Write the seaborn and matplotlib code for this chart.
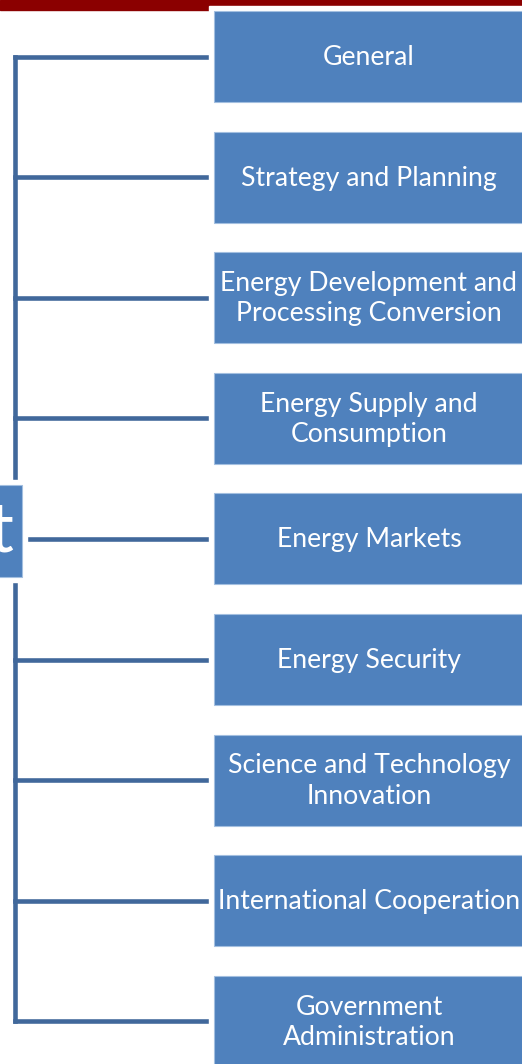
import numpy as np
import seaborn as sns
import matplotlib.pyplot as plt
from matplotlib.patches import Rectangle


# -------------------------------------------------------------
# Data: the branches of the tree (top to bottom)
# -------------------------------------------------------------
categories = [
    "General",
    "Strategy and Planning",
    "Energy Development and\nProcessing Conversion",
    "Energy Supply and\nConsumption",
    "Energy Markets",
    "Energy Security",
    "Science and Technology\nInnovation",
    "International Cooperation",
    "Government\nAdministration",
]
root_label = "t"   # the root box is cropped, only its last letter shows


# -------------------------------------------------------------
# Layout / style (pixel units, y downwards)
# -------------------------------------------------------------
W, H = 522, 1064
BOX_LEFT, BOX_RIGHT = 214, 526
FIRST_TOP, STEP, BOX_H = 11, 120.6, 91
TRUNK_X = 15
HALO = 5
FILL = "#4F81BD"
EDGE = "#A3BFE0"
LINE = "#41689B"
LW = 3.3

sns.set_theme(style="white")
plt.rcParams["font.family"] = ["Lato", "DejaVu Sans"]

fig = plt.figure(figsize=(W / 100, H / 100), dpi=100)
ax = fig.add_axes([0, 0, 1, 1])
ax.set_xlim(0, W)
ax.set_ylim(H, 0)
ax.axis("off")

centers = FIRST_TOP + BOX_H / 2 + np.arange(len(categories)) * STEP

# dark red band at the top
ax.add_patch(Rectangle((0, 0), W, 10, color="#8B0000", zorder=1))

# connectors
ax.plot([TRUNK_X, TRUNK_X], [centers[0], centers[-1]], color=LINE, lw=LW,
        solid_capstyle="projecting", zorder=2)
for c in centers:
    ax.plot([TRUNK_X, BOX_LEFT], [c, c], color=LINE, lw=LW,
            solid_capstyle="projecting", zorder=2)

# boxes (white halo then blue box)
bw = BOX_RIGHT - BOX_LEFT
ax.barh(centers, bw + 2 * HALO, left=BOX_LEFT - HALO, height=BOX_H + 2 * HALO,
        color="white", zorder=3)
ax.barh(centers, bw, left=BOX_LEFT, height=BOX_H, color=FILL,
        edgecolor=EDGE, linewidth=0.8, zorder=4)

for c, lab in zip(centers, categories):
    ax.text((BOX_LEFT + BOX_RIGHT) / 2 - 1, c + 1, lab, ha="center", va="center",
            color="white", fontsize=19.2, linespacing=1.27, zorder=5)

# root box on the left edge (cropped)
root_top, root_bot, root_right = 485, 577, 22
ax.add_patch(Rectangle((-30, root_top - HALO), root_right + 30 + HALO,
                       root_bot - root_top + 2 * HALO, color="white", zorder=3))
ax.add_patch(Rectangle((-30, root_top), root_right + 30, root_bot - root_top,
                       facecolor=FILL, edgecolor=EDGE, linewidth=0.8, zorder=4))
ax.text(13, 552, root_label, ha="right", va="baseline", color="white",
        fontsize=50, zorder=5)

fig.savefig("out.png", dpi=100)
